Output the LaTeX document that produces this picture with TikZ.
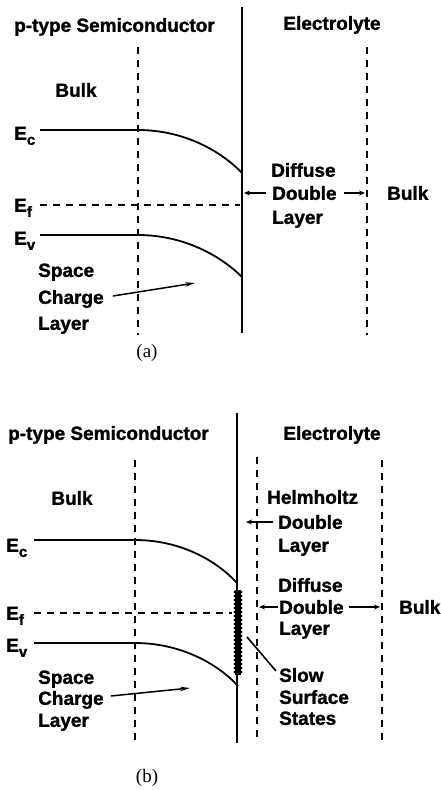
\documentclass[tikz,border=0pt]{standalone}
\usepackage{fontspec}
\setmainfont{Liberation Sans}[BoldFeatures={FakeBold=1.3}]
\newfontfamily\capserif{Liberation Serif}
\usetikzlibrary{arrows.meta}
\newcommand{\elab}[1]{E\raisebox{-5pt}{\fontsize{15}{15}\selectfont #1}}
\tikzset{
  lbl/.style={font=\bfseries\fontsize{19}{19}\selectfont, inner sep=0pt, text height=13.7pt, text depth=0pt, anchor=west},
  band/.style={line width=1.8pt},
  guide/.style={line width=1.5pt, dash pattern=on 7pt off 6pt},
  iface/.style={line width=2.2pt},
  ptr/.style={line width=1.5pt, -{Stealth[length=10pt,width=4.5pt]}},
  ptrs/.style={line width=1.5pt, -{Stealth[length=6pt,width=5pt]}},
  capt/.style={font=\capserif\fontsize{19}{19}\selectfont, inner sep=0pt},
  bead/.style={fill=black, draw=none}
}
\begin{document}
\begin{tikzpicture}[x=1pt,y=-1pt]
\useasboundingbox (0,0) rectangle (440,790);
% ================= panel (a) =================
\node[lbl] (pa-title) at (14,25) {p-type Semiconductor};
\node[lbl, anchor=center] (pa-elec) at (332,23) {Electrolyte};
\coordinate (pa-ift) at (242,7);
\coordinate (pa-ifb) at (242,333);
\draw[iface] (pa-ift) -- (pa-ifb);
\coordinate (pa-d1t) at (138,47);
\coordinate (pa-d1b) at (138,335);
\draw[guide] (pa-d1t) -- (pa-d1b);
\coordinate (pa-d2t) at (367,47);
\coordinate (pa-d2b) at (367,335);
\draw[guide] (pa-d2t) -- (pa-d2b);
\node[lbl, anchor=center] (pa-bulk) at (76,90) {Bulk};
% bands
\node[lbl] (pa-ec) at (14,133) {\elab{c}};
\node[lbl] (pa-ef) at (14,205) {\elab{f}};
\node[lbl] (pa-ev) at (14,238) {\elab{v}};
\coordinate (pa-ecs) at (40,130);
\coordinate (pa-ece) at (242,173);
\draw[band] (pa-ecs) -- (138,130) .. controls (185,130) and (222,152) .. (pa-ece);
\coordinate (pa-efs) at (40,205);
\coordinate (pa-efe) at (240,205);
\draw[guide] (pa-efs) -- (pa-efe);
\coordinate (pa-evs) at (40,235);
\coordinate (pa-eve) at (242,277);
\draw[band] (pa-evs) -- (138,235) .. controls (185,235) and (222,257) .. (pa-eve);
% diffuse double layer
\node[lbl] (pa-dif) at (271,170) {Diffuse};
\node[lbl] (pa-dbl) at (272,193) {Double};
\node[lbl] (pa-lay) at (272,217) {Layer};
\coordinate (pa-dl) at (244,193);
\coordinate (pa-dr) at (365,193);
\draw[ptrs] ([xshift=-6pt]pa-dbl.west) -- (pa-dl);
\draw[ptrs] ([xshift=7pt]pa-dbl.east) -- (pa-dr);
\node[lbl] (pa-bulk2) at (387,193) {Bulk};
% space charge
\node[lbl] (pa-spc) at (38,270) {Space};
\node[lbl] (pa-chg) at (38,297) {Charge};
\node[lbl] (pa-scl) at (38,323) {Layer};
\coordinate (pa-sca) at (195,283);
\draw[ptr] ([xshift=9pt,yshift=1pt]pa-chg.east) -- (pa-sca);
\node[capt] (pa-cap) at (147,353) {(a)};
% ================= panel (b) =================
\node[lbl] (pb-title) at (8,433) {p-type Semiconductor};
\node[lbl, anchor=center] (pb-elec) at (332,433) {Electrolyte};
\coordinate (pb-ift) at (237,413);
\coordinate (pb-ifb) at (237,743);
\draw[iface] (pb-ift) -- (pb-ifb);
\coordinate (pb-d1t) at (135,460);
\coordinate (pb-d1b) at (135,743);
\draw[guide] (pb-d1t) -- (pb-d1b);
\coordinate (pb-d2t) at (257,457);
\coordinate (pb-d2b) at (257,743);
\draw[guide] (pb-d2t) -- (pb-d2b);
\coordinate (pb-d3t) at (382,460);
\coordinate (pb-d3b) at (382,743);
\draw[guide] (pb-d3t) -- (pb-d3b);
\node[lbl, anchor=center] (pb-bulk) at (72,498) {Bulk};
% bands
\node[lbl] (pb-ec) at (6,545) {\elab{c}};
\node[lbl] (pb-ef) at (6,613) {\elab{f}};
\node[lbl] (pb-ev) at (6,645) {\elab{v}};
\coordinate (pb-ecs) at (34,540);
\coordinate (pb-ece) at (237,583);
\draw[band] (pb-ecs) -- (135,540) .. controls (182,540) and (218,562) .. (pb-ece);
\coordinate (pb-efs) at (34,613);
\coordinate (pb-efe) at (232,613);
\draw[guide] (pb-efs) -- (pb-efe);
\coordinate (pb-evs) at (34,643);
\coordinate (pb-eve) at (238,686);
\draw[band] (pb-evs) -- (135,643) .. controls (182,643) and (219,665) .. (pb-eve);
% surface states
\coordinate (pb-sst) at (238,590);
\coordinate (pb-ssb) at (238,675);
\draw[line width=6.5pt] (pb-sst) -- (pb-ssb);
\foreach \yy in {592,596,...,672} {
  \fill[bead] (238,\yy) ellipse [x radius=4.6pt, y radius=1.9pt];
}
% helmholtz
\node[lbl] (pb-hel) at (267,497) {Helmholtz};
\node[lbl] (pb-hdb) at (278,522) {Double};
\node[lbl] (pb-hly) at (278,545) {Layer};
\coordinate (pb-hl) at (246,522);
\draw[ptrs] ([xshift=-5pt]pb-hdb.west) -- (pb-hl);
% diffuse
\node[lbl] (pb-dif) at (278,585) {Diffuse};
\node[lbl] (pb-dbl) at (279,607) {Double};
\node[lbl] (pb-lay) at (279,628) {Layer};
\coordinate (pb-dl) at (259,607);
\coordinate (pb-dr) at (380,607);
\draw[ptrs] ([xshift=-1pt]pb-dbl.west) -- (pb-dl);
\draw[ptrs] ([xshift=5pt]pb-dbl.east) -- (pb-dr);
\node[lbl] (pb-bulk2) at (399,607) {Bulk};
% slow surface states
\node[lbl] (pb-slo) at (279,675) {Slow};
\node[lbl] (pb-sur) at (279,697) {Surface};
\node[lbl] (pb-sta) at (279,718) {States};
\coordinate (pb-sp) at (247,637);
\draw[line width=1.6pt] ([xshift=-3pt,yshift=4pt]pb-slo.west) -- (pb-sp);
% space charge
\node[lbl] (pb-spc) at (38,677) {Space};
\node[lbl] (pb-chg) at (38,698) {Charge};
\node[lbl] (pb-scl) at (38,720) {Layer};
\coordinate (pb-sca) at (190,688);
\draw[ptr] ([xshift=7pt,yshift=2pt]pb-chg.east) -- (pb-sca);
\node[capt] (pb-cap) at (147,778) {(b)};
\end{tikzpicture}
\end{document}
